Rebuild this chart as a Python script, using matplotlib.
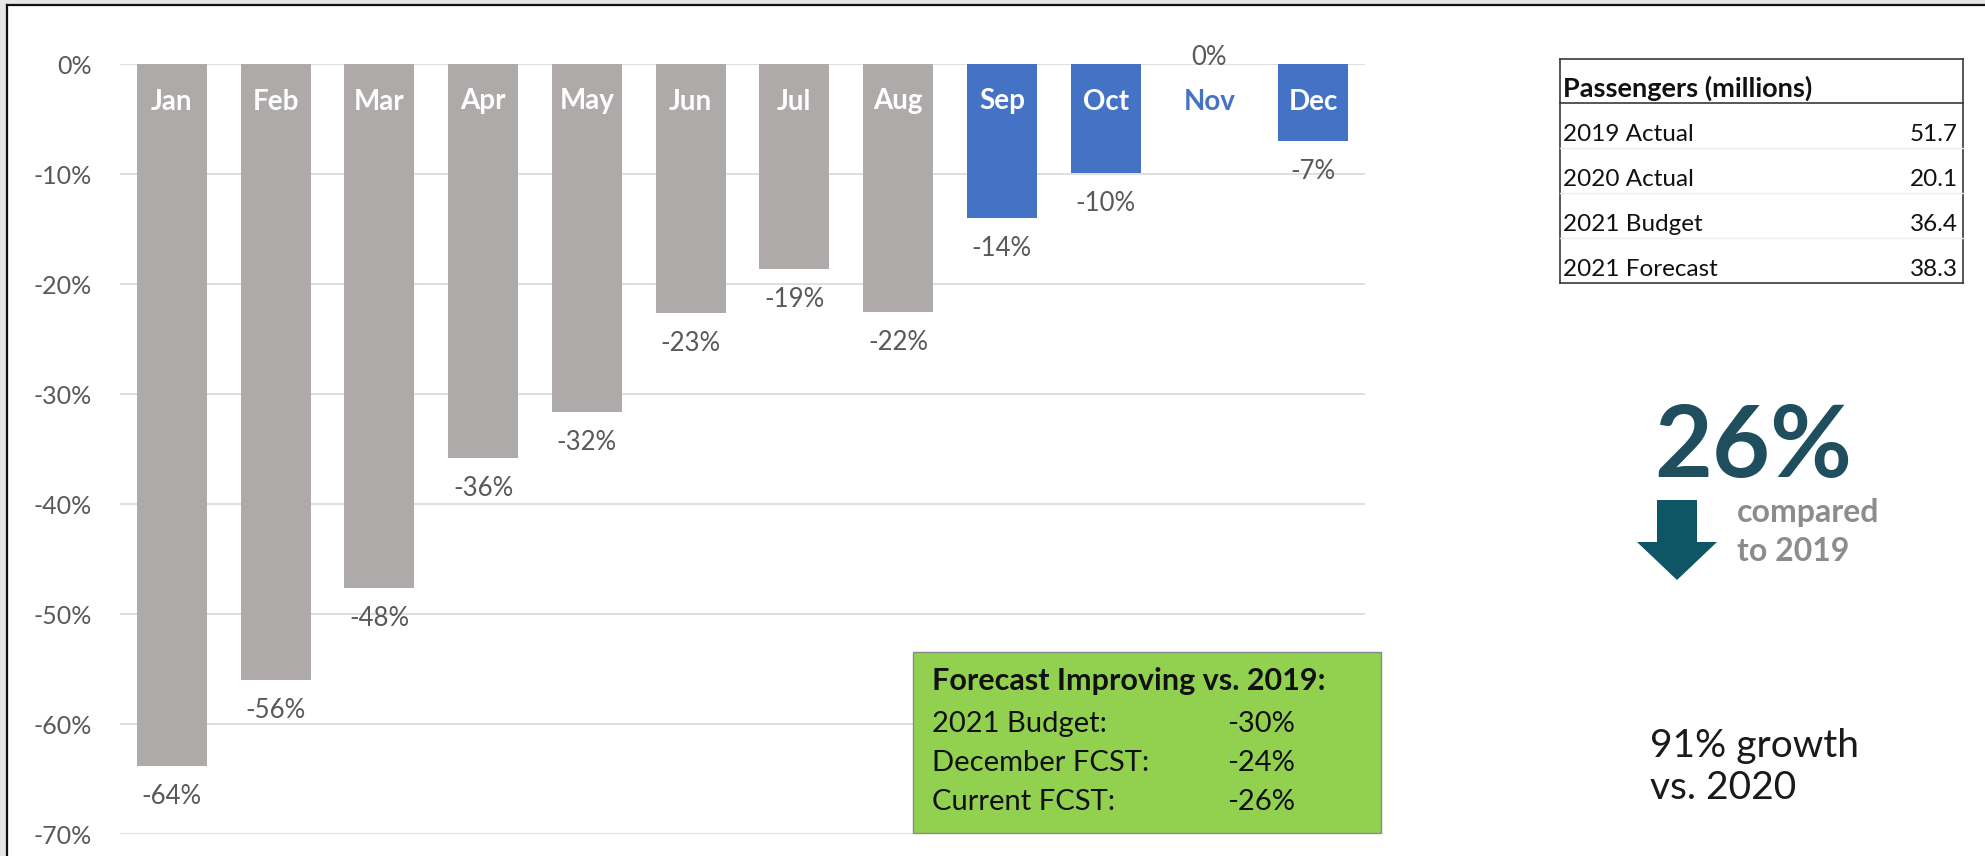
import matplotlib
matplotlib.use("Agg")
import matplotlib.pyplot as plt
from matplotlib.patches import Rectangle
from matplotlib.lines import Line2D
from matplotlib.ticker import FuncFormatter

plt.rcParams["font.family"] = ["Lato", "DejaVu Sans"]

W, H = 1985, 856

MONTHS = ["Jan", "Feb", "Mar", "Apr", "May", "Jun", "Jul", "Aug", "Sep", "Oct", "Nov", "Dec"]
VS_2019 = [-63.8, -56.0, -47.6, -35.8, -31.6, -22.6, -18.6, -22.5, -14.0, -9.9, 0.0, -7.0]
IS_FORECAST = [False] * 8 + [True] * 4

TABLE_TITLE = "Passengers (millions)"
TABLE_ROWS = ["2019 Actual", "2020 Actual", "2021 Budget", "2021 Forecast"]
TABLE_VALUES = [51.7, 20.1, 36.4, 38.3]

BOX_TITLE = "Forecast Improving vs. 2019:"
BOX_LABELS = ["2021 Budget:", "December FCST:", "Current FCST:"]
BOX_VALUES = [-30, -24, -26]

GRAY = "#AEAAAA"
BLUE = "#4472C4"
LABEL = "#595959"
TEAL = "#1F4E5E"


def px(x, y):
    # pixel coords (from top-left) -> figure fraction
    return x / W, 1 - y / H


fig = plt.figure(figsize=(W / 100, H / 100), dpi=100)
fig.patch.set_facecolor("white")

# plot area
x0, y0 = px(120, 834)
x1, y1 = px(1365, 64)
ax = fig.add_axes([x0, y0, x1 - x0, y1 - y0])
colors = [BLUE if f else GRAY for f in IS_FORECAST]
bars = ax.bar(MONTHS, VS_2019, width=0.675, color=colors, zorder=2)
ax.set_xlim(-0.5, len(MONTHS) - 0.5)
ax.set_ylim(-70, 0)
ax.set_yticks(range(-70, 1, 10))
ax.yaxis.set_major_formatter(FuncFormatter(lambda v, _: f"{v:.0f}%"))
ax.tick_params(axis="y", length=0, pad=20, labelsize=18, labelcolor=LABEL)
ax.set_xticks([])
for s in ax.spines.values():
    s.set_visible(False)
ax.yaxis.grid(True, color="#D9D9D9", linewidth=1.2)
ax.set_axisbelow(True)

for i, (m, v) in enumerate(zip(MONTHS, VS_2019)):
    # month name inside the top of the bar
    ax.annotate(m, (i, 0), xytext=(0, -27), textcoords="offset points",
                ha="center", va="center", fontsize=20, fontweight="bold",
                color="white" if v < 0 else BLUE)
    # value label at the bar end
    off = -22 if v < 0 else 5
    ax.annotate(f"{v:.0f}%", (i, v), xytext=(0, off), textcoords="offset points",
                ha="center", va="center", fontsize=18.5, color=LABEL)

# outer frame
fig.patches.append(Rectangle(px(0, 5), 1, 5 / H, transform=fig.transFigure,
                             facecolor="#E6E6E6", edgecolor="none"))
fig.patches.append(Rectangle(px(0, H), 7 / W, 1, transform=fig.transFigure,
                             facecolor="#E6E6E6", edgecolor="none"))
for xs, ys in [((7, W), (5, 5)), ((7, 7), (5, H))]:
    a, b = px(xs[0], ys[0])
    c, d = px(xs[1], ys[1])
    fig.lines.append(Line2D([a, c], [b, d], transform=fig.transFigure,
                            color="#111111", linewidth=1.6))

# passengers table
tl, tr, tt, th, tb = 1560, 1963, 59, 103, 283
for ys in [tt, th, tb]:
    a, b = px(tl, ys)
    c, _ = px(tr, ys)
    fig.lines.append(Line2D([a, c], [b, b], transform=fig.transFigure,
                            color="#3A3A3A", linewidth=1.2))
for xs in [tl, tr]:
    a, b = px(xs, tt)
    _, d = px(xs, tb)
    fig.lines.append(Line2D([a, a], [b, d], transform=fig.transFigure,
                            color="#3A3A3A", linewidth=1.2))
for ys in [148, 193, 238]:
    a, b = px(tl, ys)
    c, _ = px(tr, ys)
    fig.lines.append(Line2D([a, c], [b, b], transform=fig.transFigure,
                            color="#EDEDED", linewidth=1))
fig.text(*px(1563, 97), TABLE_TITLE, fontsize=19.5, fontweight="bold",
         color="#111111", va="baseline")
for k, (name, val) in enumerate(zip(TABLE_ROWS, TABLE_VALUES)):
    yb = 141 + k * 45
    fig.text(*px(1563, yb), name, fontsize=17.5, color="#111111", va="baseline")
    fig.text(*px(1958, yb), f"{val:.1f}", fontsize=17.5, color="#111111",
             va="baseline", ha="right")

# headline
fig.text(*px(1654, 477), "26%", fontsize=72, fontweight="bold", color=TEAL,
         va="baseline")
ax_arrow = fig.add_axes([0, 0, 1, 1], facecolor="none")
ax_arrow.set_xlim(0, W)
ax_arrow.set_ylim(H, 0)
ax_arrow.axis("off")
ax_arrow.fill([1657, 1697, 1697, 1717, 1677, 1637, 1657],
              [500, 500, 542, 542, 580, 542, 542], color="#0E5566", linewidth=0)
fig.text(*px(1737, 522), "compared", fontsize=23, fontweight="bold",
         color="#8C8C8C", va="baseline")
fig.text(*px(1737, 561), "to 2019", fontsize=23, fontweight="bold",
         color="#8C8C8C", va="baseline")
fig.text(*px(1650, 757), "91% growth", fontsize=28, color="#1A1A1A", va="baseline")
fig.text(*px(1650, 799), "vs. 2020", fontsize=28, color="#1A1A1A", va="baseline")

# green callout box
fig.patches.append(Rectangle(px(913, 833), (1381 - 913) / W, (833 - 652) / H,
                             transform=fig.transFigure, facecolor="#92D050",
                             edgecolor="#8A8A8A", linewidth=1, zorder=5))
fig.text(*px(932, 690), BOX_TITLE, fontsize=22, fontweight="bold",
         color="#111111", va="baseline", zorder=6)
for k, (lab, val) in enumerate(zip(BOX_LABELS, BOX_VALUES)):
    yb = 732 + k * 39
    fig.text(*px(932, yb), lab, fontsize=21, color="#111111", va="baseline", zorder=6)
    fig.text(*px(1227, yb), f"{val}%", fontsize=21, color="#111111",
             va="baseline", zorder=6)

fig.savefig("out.png", dpi=100)
